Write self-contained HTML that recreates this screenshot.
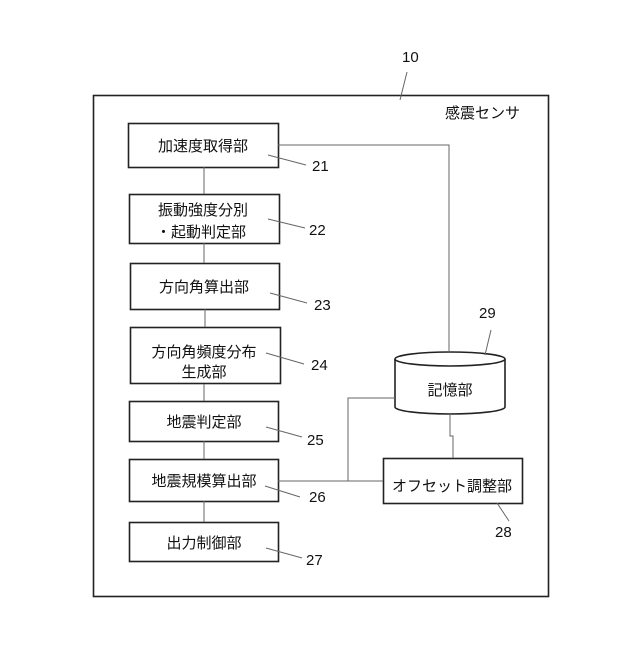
<!DOCTYPE html>
<html><head><meta charset="utf-8"><style>
body{margin:0;background:#fff}
svg text{font-family:"Liberation Sans","Noto Sans CJK JP",sans-serif;fill:#111}
</style></head><body>
<svg width="640" height="640" xmlns="http://www.w3.org/2000/svg">
<rect width="640" height="640" fill="#fff"/>
<g fill="none" stroke="#222" stroke-width="1.6">
<rect x="93.5" y="95.5" width="455" height="501"/>
<rect x="128.5" y="123.5" width="150" height="44"/>
<rect x="129.5" y="194.5" width="150" height="49"/>
<rect x="130.5" y="263.5" width="149" height="46"/>
<rect x="130.5" y="327.5" width="150" height="56"/>
<rect x="129.5" y="401.5" width="149" height="40"/>
<rect x="129.5" y="459.5" width="149" height="42"/>
<rect x="129.5" y="522.5" width="149" height="39"/>
<rect x="383.5" y="458.5" width="139" height="45"/>
<path d="M395,359 L395,407 A55,7 0 0 0 505,407 L505,359" fill="#fff"/>
<ellipse cx="450" cy="359" rx="55" ry="7" fill="#fff"/>
</g>
<g fill="none" stroke="#666" stroke-width="1">
<path d="M204,167V194 M204,243V263 M205,309V327 M204,384V401 M204,441V459 M204,501V522"/>
<path d="M278,145H449V352"/>
<path d="M450,414V436H453V458"/>
<path d="M278,481H383 M348,481V398H395"/>
<path d="M407,72L400,100 M268,155L306,165 M268,219L305,228 M270,293L307,303 M266,353L304,364 M266,427L302,437 M265,486L300,497 M266,548L302,558 M485,355L491,330 M497,503L509,521"/>
</g>
<g font-size="15">
<text x="402" y="62">10</text>
<text x="445" y="118">感震センサ</text>
<text x="203" y="151" text-anchor="middle">加速度取得部</text>
<text x="203" y="215" text-anchor="middle">振動強度分別</text>
<text x="201" y="237" text-anchor="middle">・起動判定部</text>
<text x="204" y="292" text-anchor="middle">方向角算出部</text>
<text x="204" y="357" text-anchor="middle">方向角頻度分布</text>
<text x="204" y="377" text-anchor="middle">生成部</text>
<text x="204" y="427" text-anchor="middle">地震判定部</text>
<text x="204" y="486" text-anchor="middle">地震規模算出部</text>
<text x="204" y="548" text-anchor="middle">出力制御部</text>
<text x="452" y="491" text-anchor="middle">オフセット調整部</text>
<text x="450" y="395" text-anchor="middle">記憶部</text>
<text x="312" y="171">21</text>
<text x="309" y="235">22</text>
<text x="314" y="310">23</text>
<text x="311" y="370">24</text>
<text x="307" y="445">25</text>
<text x="309" y="502">26</text>
<text x="306" y="565">27</text>
<text x="479" y="318">29</text>
<text x="495" y="537">28</text>
</g>
</svg>
</body></html>
